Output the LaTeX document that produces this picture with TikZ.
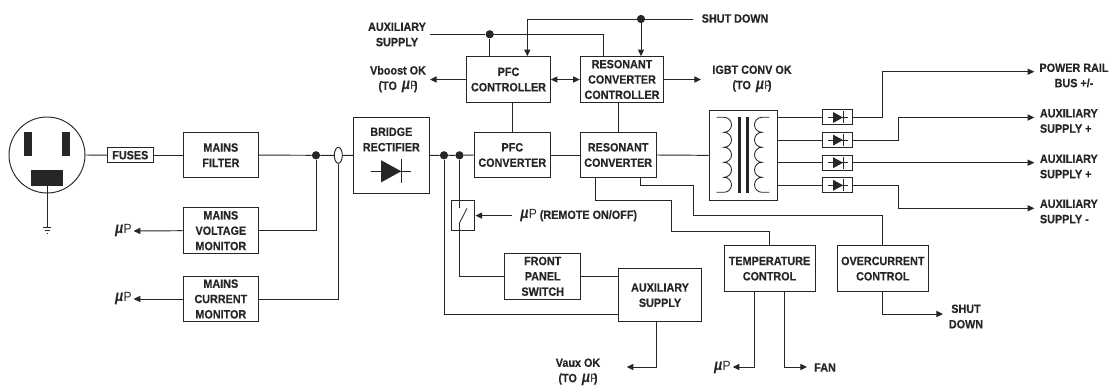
\documentclass[tikz,border=0pt]{standalone}
\usepackage{fontspec}
\setmainfont{Liberation Sans}[FakeStretch=0.9,BoldFeatures={FakeBold=0.35}]
\usetikzlibrary{arrows.meta,calc,shapes.geometric}
\definecolor{ink}{HTML}{262626}
\newcommand{\muP}{\textit{\fontsize{12}{12}\selectfont\textmu}\kern0.2pt{\fontsize{10}{10}\selectfont\mdseries P}}
\newcommand{\toP}{(TO\ \,\textit{\fontsize{12}{12}\selectfont\textmu}\kern0.2pt{\mdseries P}\kern-2.8pt)}
\tikzset{
  x=0.75pt,y=-0.75pt,
  every node/.style={font=\bfseries\fontsize{9}{11.5}\selectfont,text=ink,inner sep=0pt,align=center},
  wire/.style={draw=ink,line width=0.72pt},
  arr/.style={wire,-{Triangle[length=5pt,width=4.6pt]}},
  darr/.style={wire,{Triangle[length=5pt,width=4.6pt]}-{Triangle[length=5pt,width=4.6pt]}},
  block/.style={draw=ink,line width=0.75pt,fill=white},
  dot/.style={circle,fill=ink,minimum size=6.2pt},
}
% name, x1, y1, x2, y2, text
\newcommand{\bx}[6]{\node[block,minimum width=#4*0.75pt-#2*0.75pt,minimum height=#5*0.75pt-#3*0.75pt] (#1) at ({(#2+#4)/2},{(#3+#5)/2}) {#6};}
% diode symbol at centre
\newcommand{\diodesym}[3]{%
  \begin{scope}[shift={(#1,#2)},scale=#3]
    \draw[wire] (-10,0)--(10,0);
    \fill[ink] (-5,-5.5)--(5,0)--(-5,5.5)--cycle;
    \draw[wire] (5,-6)--(5,6);
  \end{scope}}
\begin{document}
\begin{tikzpicture}
\useasboundingbox (0,0) rectangle (1114,388);
% socket
\node[circle,draw=ink,line width=0.72pt,minimum size=57pt] (socket) at (47,155) {};
\fill[ink] (24,132.3) rectangle (32.3,155.7);
\fill[ink] (62,132.3) rectangle (70.3,155.7);
\fill[ink] (31.3,170) rectangle (62.7,185.7);
\coordinate (gndtop) at (47,185.7);
\coordinate (gnd) at (47,227.7);
\draw[wire] (gndtop)--(gnd);
\draw[ink,line width=0.6pt] (43,227.7)--(51,227.7) (44.7,230.7)--(49.7,230.7) (46.5,233.7)--(47.5,233.7);
% boxes
\bx{fuses}{107.3}{147.3}{153.3}{163}{FUSES}
\bx{filter}{183}{132.3}{258.7}{178}{MAINS\\FILTER}
\bx{vmon}{183}{208}{258.7}{253.4}{MAINS\\VOLTAGE\\MONITOR}
\bx{imon}{183}{276.3}{258.7}{321.7}{MAINS\\CURRENT\\MONITOR}
\node[block,minimum width=57pt,minimum height=57pt] (bridge) at (391.3,155.3) {};
\node (bridgetxt) at (391.3,139.5) {BRIDGE\\RECTIFIER};
\diodesym{391.2}{171.3}{2}
\bx{pfcconv}{474.3}{132.4}{550.3}{177.6}{PFC\\CONVERTER}
\bx{resconv}{580.3}{132.4}{656}{177.6}{RESONANT\\CONVERTER}
\bx{pfcctl}{466.7}{56.7}{550.3}{102.3}{PFC\\CONTROLLER}
\bx{resctl}{580.3}{56.7}{663.7}{102.3}{RESONANT\\CONVERTER\\CONTROLLER}
\bx{fps}{504.7}{253.5}{580.7}{299.1}{FRONT\\PANEL\\SWITCH}
\bx{aux}{618.3}{268.7}{701.7}{321.7}{AUXILIARY\\SUPPLY}
\bx{temp}{724}{246}{815}{291.3}{TEMPERATURE\\CONTROL}
\bx{oc}{837.3}{246}{928.3}{291.3}{OVERCURRENT\\CONTROL}
\node[block,minimum width=17.5pt,minimum height=23pt] (sw) at (463.3,215.6) {};
\node[block,minimum width=51.2pt,minimum height=68pt] (xfmr) at (743.2,155.35) {};
% transformer
\draw[ink,line width=0.65pt] (716.7,117.3)--(724,117.3)
  arc[start angle=-90,end angle=90,radius=7.5] arc[start angle=-90,end angle=90,radius=7.5]
  arc[start angle=-90,end angle=90,radius=7.5] arc[start angle=-90,end angle=90,radius=7.5]
  arc[start angle=-90,end angle=90,radius=7.5] --(716.7,192.3);
\draw[ink,line width=0.65pt] (769.3,117.3)--(762,117.3)
  arc[start angle=-90,end angle=-270,radius=7.5] arc[start angle=-90,end angle=-270,radius=7.5]
  arc[start angle=-90,end angle=-270,radius=7.5] arc[start angle=-90,end angle=-270,radius=7.5]
  arc[start angle=-90,end angle=-270,radius=7.5] --(769.3,192.3);
\draw[ink,line width=2.1pt] (739.4,117.3)--(739.4,192.7) (747.3,117.3)--(747.3,192.7);
% diodes
\bx{d1}{822.3}{110}{852.7}{125}{}
\bx{d2}{822.3}{132.6}{852.7}{147.6}{}
\bx{d3}{822.3}{155.2}{852.7}{170.2}{}
\bx{d4}{822.3}{177.8}{852.7}{192.8}{}
\diodesym{838}{117.5}{1}
\diodesym{838}{140.1}{1}
\diodesym{838}{162.7}{1}
\diodesym{838}{185.3}{1}
% junctions
\node[dot] (j1) at (316,155.3) {};
\node[draw=ink,line width=0.72pt,fill=white,ellipse,minimum width=6pt,minimum height=12pt] (ct) at (338.3,155.3) {};
\node[dot] (j2) at (444,155.3) {};
\node[dot] (j3) at (459.5,155.3) {};
\node[dot] (j4) at (489.7,34.3) {};
\node[dot] (j5) at (641,19) {};
% labels
\node[anchor=east] (mup1) at (132,231) {\muP};
\node[anchor=east] (mup2) at (132,299) {\muP};
\node (auxin) at (397,34.5) {AUXILIARY\\SUPPLY};
\node[anchor=west] (sd) at (701.5,18.5) {SHUT DOWN};
\node (vboost) at (398,79.5) {Vboost OK\\\toP};
\node (igbt) at (752,79) {IGBT CONV OK\\\toP};
\node[anchor=west] (rem) at (520,216) {\muP\ (REMOTE ON/OFF)};
\node (vaux) at (578,372) {Vaux OK\\\toP};
\node[anchor=east] (mup3) at (731,367.5) {\muP};
\node[anchor=west] (fan) at (814,367.5) {FAN};
\node (sd2) at (966,316.5) {SHUT\\DOWN};
\node (rail) at (1074,75.5) {POWER RAIL\\BUS +/-};
\node[anchor=west,align=left] (s1) at (1039.7,121) {AUXILIARY\\SUPPLY +};
\node[anchor=west,align=left] (s2) at (1039.7,166.5) {AUXILIARY\\SUPPLY +};
\node[anchor=west,align=left] (s3) at (1039.7,211.5) {AUXILIARY\\SUPPLY -};
% connector helpers
\coordinate (auxstart) at (429.7,34.3);
\coordinate (sdend) at (693.3,19);
\coordinate (sdleft) at (527.3,19);
\coordinate (vbtip) at (430,79.5);
\coordinate (igtip) at (701,79.5);
\coordinate (swtop) at (459.5,208);
\coordinate (swbot) at (459.5,223);
\coordinate (swarm) at (467,208.3);
\coordinate (remstart) at (511.7,215.6);
\coordinate (vauxtip) at (626.7,367);
\coordinate (mup3tip) at (732.7,367);
\coordinate (fantip) at (807,367);
\coordinate (sd2tip) at (943,314);
\coordinate (o1) at (1034.3,71.7);
\coordinate (o2) at (1034.3,117.5);
\coordinate (o3) at (1034.3,162.7);
\coordinate (o4) at (1034.3,208.3);
% mains section
\draw[wire] (socket.east)--(fuses.west);
\draw[wire] (fuses.east)--(filter.west);
\draw[wire] (filter.east)--(j1)--(ct)--(bridge.west);
\draw[wire] (j1) |- (vmon.east);
\draw[wire] (ct.south) |- (imon.east);
\draw[arr,shorten >=1.2pt] (vmon.west)--(mup1.east);
\draw[arr,shorten >=1.2pt] (imon.west)--(mup2.east);
% converter chain
\draw[wire] (bridge.east)--(j2)--(j3)--(pfcconv.west);
\draw[wire] (pfcconv.east)--(resconv.west);
\draw[wire] (resconv.east)--(xfmr.west);
\draw[wire] (pfcctl.south-|pfcconv.north)--(pfcconv.north);
\draw[wire] (resctl.south-|resconv.north)--(resconv.north);
\draw[darr] (pfcctl.east)--(resctl.west);
\draw[arr] (pfcctl.west)--(vbtip);
\draw[arr] (resctl.east)--(igtip);
% top rails
\draw[wire] (auxstart)--(j4)--++(113.6,0)--++(0,22.4);
\draw[wire] (j4)--(j4|-pfcctl.north);
\draw[wire] (sdend)--(j5)--(sdleft);
\draw[arr] (sdleft)--(sdleft|-pfcctl.north);
\draw[arr] (j5)--(j5|-resctl.north);
% switch and auxiliary supply
\draw[wire] (j3)--(swtop);
\draw[wire,line width=0.6pt] (swbot)--(swarm);
\draw[wire] (swbot) |- (fps.west);
\draw[arr] (remstart)--(sw.east);
\draw[wire] (j2) |- (618.3,314) coordinate (auxlow);
\draw[wire] (fps.east)--(fps.east-|aux.west);
\draw[arr] (aux.south-|656.3,0)|-(vauxtip);
% resonant converter feedback
\draw[wire] (595.7,177.6)--(595.7,200.3)--(671.5,200.3)--(671.5,231)--(769.5,231)--(temp.north-|769.5,0);
\draw[wire] (640.8,177.6)--(640.8,185.3)--(693.7,185.3)--(693.7,215.7)--(882.8,215.7)--(oc.north);
\draw[arr] (temp.south-|754.3,0)|-(mup3tip);
\draw[arr] (temp.south-|784.3,0)|-(fantip);
\draw[arr] (oc.south)|-(sd2tip);
% outputs
\draw[wire] (xfmr.east|-d1.west)--(d1.west);
\draw[wire] (xfmr.east|-d2.west)--(d2.west);
\draw[wire] (xfmr.east|-d3.west)--(d3.west);
\draw[wire] (xfmr.east|-d4.west)--(d4.west);
\draw[arr] (d1.east)-|(882.7,71.7)--(o1);
\draw[arr] (d2.east)-|(898,117.5)--(o2);
\draw[arr] (d3.east)--(o3);
\draw[arr] (d4.east)-|(898,208.3)--(o4);
\end{tikzpicture}
\end{document}
